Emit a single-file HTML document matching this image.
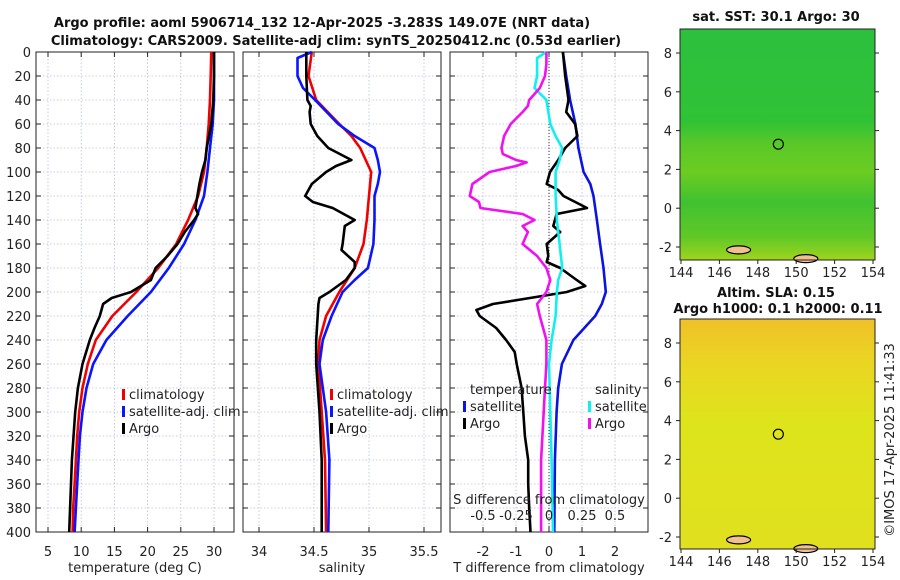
<!DOCTYPE html>
<html><head><meta charset="utf-8"><style>
body{margin:0;background:#fff}
svg{display:block;font-family:"DejaVu Sans","Liberation Sans",sans-serif}
.t{font-size:13px;fill:#222}
.b{font-weight:bold;font-size:13px;fill:#111}
</style></head><body>
<svg id="chart" width="900" height="580" viewBox="0 0 900 580" xmlns="http://www.w3.org/2000/svg">
<defs>
<linearGradient id="sstg" x1="0" y1="0" x2="0" y2="1">
<stop offset="0" stop-color="#2cc03e"/><stop offset="0.4" stop-color="#30c236"/>
<stop offset="0.5" stop-color="#5ac828"/><stop offset="0.62" stop-color="#6ccc22"/>
<stop offset="0.75" stop-color="#40c230"/><stop offset="0.9" stop-color="#60c828"/><stop offset="1" stop-color="#a0d41c"/>
</linearGradient>
<linearGradient id="slag" x1="0" y1="0" x2="0" y2="1">
<stop offset="0" stop-color="#f0c028"/><stop offset="0.2" stop-color="#ead622"/>
<stop offset="0.45" stop-color="#dee41c"/><stop offset="1" stop-color="#e0e01e"/>
</linearGradient>
</defs>
<text class="b" x="322" y="27" text-anchor="middle">Argo profile: aoml 5906714_132 12-Apr-2025 -3.283S 149.07E (NRT data)</text>
<text class="b" x="336" y="45" text-anchor="middle">Climatology: CARS2009. Satellite-adj clim: synTS_20250412.nc (0.53d earlier)</text>
<g id="panels"></g>
<g id="maps"></g>
<text class="t" transform="translate(894,440) rotate(-90)" text-anchor="middle">©IMOS 17-Apr-2025 11:41:33</text>
</svg>
<script>
// ---- data ----
const depthTicks=[0,20,40,60,80,100,120,140,160,180,200,220,240,260,280,300,320,340,360,380,400];
const tempTicks=[5,10,15,20,25,30];
const salTicks=[34,34.5,35,35.5];
const dTTicks=[-2,-1,0,1,2];
const dSTicks=[-0.5,-0.25,0,0.25,0.5];
const dSTickLabels=["-0.5","-0.25","0","0.25","0.5"];

const climTdep=[0,20,40,60,80,100,120,140,160,180,200,220,240,260,280,300,320,340,360,380,400];
const climT=[29.6,29.5,29.4,29.2,28.9,28.5,27.6,26.1,24.3,21.6,18.3,14.7,12.2,11.0,10.2,9.7,9.4,9.2,9.0,8.8,8.7];
const satTdep=[0,40,60,80,100,120,140,160,180,200,220,240,260,280,300,320,340,360,380,400];
const satT=[30.0,30.0,29.8,29.4,29.0,28.5,27.2,25.5,23.2,20.5,17.0,13.8,11.8,10.8,10.2,9.8,9.6,9.4,9.2,9.0];
const argoTdep=[0,20,40,60,80,90,100,110,120,130,135,140,150,160,170,180,190,200,205,210,220,230,240,260,280,300,340,400];
const argoT=[30.0,30.0,29.9,29.6,28.9,28.7,28.2,27.8,27.5,27.2,27.6,27.0,25.6,24.5,23.0,21.2,20.5,17.5,14.6,13.3,12.8,12.0,11.3,10.2,9.5,9.1,8.6,8.2];

const climSdep=[0,20,40,60,70,80,100,120,140,160,180,200,220,240,260,300,340,400];
const climS=[34.48,34.45,34.52,34.73,34.84,34.92,35.02,35.0,34.98,34.95,34.87,34.73,34.61,34.55,34.54,34.57,34.6,34.61];
const satSdep=[0,5,20,30,40,60,70,80,90,100,110,120,140,160,180,190,200,220,240,260,280,300,340,400];
const satS=[34.48,34.35,34.35,34.40,34.51,34.72,34.87,35.05,35.08,35.10,35.08,35.05,35.05,35.04,34.99,34.87,34.76,34.66,34.58,34.55,34.58,34.61,34.64,34.63];
const argoSdep=[0,20,40,45,50,60,70,80,90,95,100,110,120,125,130,140,145,160,165,175,180,190,200,205,210,240,260,300,340,400];
const argoS=[34.43,34.43,34.44,34.47,34.46,34.47,34.53,34.63,34.84,34.7,34.61,34.48,34.42,34.49,34.67,34.87,34.78,34.76,34.75,34.87,34.87,34.79,34.64,34.55,34.54,34.52,34.52,34.55,34.57,34.57];

const satdTdep=[0,20,40,60,80,100,110,120,140,160,180,200,210,220,240,260,280,300,340,400];
const satdT=[0.42,0.52,0.64,0.8,0.89,1.05,1.25,1.35,1.45,1.55,1.65,1.72,1.6,1.4,0.74,0.39,0.28,0.23,0.18,0.16];
const argodTdep=[0,20,40,50,60,70,80,90,100,110,115,120,130,135,145,150,160,170,175,180,190,195,200,205,210,215,220,230,240,250,260,280,300,320,340,360,380,400];
const argodT=[0.42,0.49,0.59,0.52,0.79,0.86,0.49,0.28,0.03,-0.07,0.28,0.44,1.15,0.23,0.13,0.34,-0.07,-0.02,-0.07,0.34,0.84,1.1,0.54,-0.58,-1.7,-2.2,-2.1,-1.6,-1.3,-1.04,-0.98,-0.83,-0.78,-0.73,-0.63,-0.63,-0.6,-0.56];
const satdSdep=[0,5,20,30,40,60,70,80,90,100,120,140,160,180,190,200,220,240,260,300,340,400];
const satdS=[-0.02,-0.09,-0.09,-0.11,-0.02,0.01,0.05,0.1,0.08,0.05,0.05,0.06,0.08,0.1,0.07,0.06,0.05,0.02,0,0.01,0.02,0.03];
const argodSdep=[0,10,20,30,40,45,50,60,70,80,85,90,92,95,100,110,120,125,130,135,140,145,150,160,170,180,190,200,210,220,240,260,280,300,340,380,400];
const argodS=[-0.02,-0.02,-0.03,-0.07,-0.15,-0.16,-0.2,-0.29,-0.34,-0.36,-0.35,-0.25,-0.17,-0.25,-0.45,-0.58,-0.6,-0.53,-0.52,-0.2,-0.11,-0.2,-0.16,-0.2,-0.09,-0.02,0.01,-0.02,-0.09,-0.07,-0.02,-0.02,-0.03,-0.04,-0.06,-0.06,-0.06];

const lonTicks=[144,146,148,150,152,154];
const latTicks=[-2,0,2,4,6,8];
const argoLon=149.07, argoLat=3.3;

// ---- helpers ----
const NS="http://www.w3.org/2000/svg";
const root=document.getElementById('panels');
function mk(tag,attrs,parent){const e=document.createElementNS(NS,tag);for(const k in attrs)e.setAttribute(k,attrs[k]);(parent||root).appendChild(e);return e;}
const yTop=52,yBot=532;
const yS=d=>yTop+(yBot-yTop)*d/400;
function lin(d0,d1,r0,r1){return v=>r0+(v-d0)*(r1-r0)/(d1-d0);}

function panel(name,x0,x1,xs,ticks,labels,xlabel,leftLabels){
  const g=mk('g',{});
  
  
  ticks.forEach(t=>{const x=xs(t);const l=mk('line',{x1:x,x2:x,y1:yTop,y2:yBot,stroke:'#b8c0e0','stroke-width':0.8,'stroke-dasharray':'1.5,2'},g);
    
    mk('line',{x1:x,x2:x,y1:yBot,y2:yBot-5,stroke:'#222'},g);mk('line',{x1:x,x2:x,y1:yTop,y2:yTop+5,stroke:'#222'},g);});
  depthTicks.forEach(d=>{const y=yS(d);const l=mk('line',{x1:x0,x2:x1,y1:y,y2:y,stroke:'#b8c0e0','stroke-width':0.8,'stroke-dasharray':'1.5,2'},g);
    
    mk('line',{x1:x0,x2:x0+5,y1:y,y2:y,stroke:'#222'},g);mk('line',{x1:x1,x2:x1-5,y1:y,y2:y,stroke:'#222'},g);
    if(leftLabels){const t=mk('text',{x:x0-5,y:y+5,'text-anchor':'end',class:'t'},g);t.textContent=d;
      }});
  ticks.forEach((t,i)=>{const tx=mk('text',{x:xs(t),y:556,'text-anchor':'middle',class:'t'},g);tx.textContent=labels[i];
    });
  const xt=mk('text',{x:(x0+x1)/2,y:572,'text-anchor':'middle',class:'t'},g);xt.textContent=xlabel;
  
  const fr=mk('rect',{x:x0,y:yTop,width:x1-x0,height:yBot-yTop,fill:'none',stroke:'#222','stroke-width':1},g);
  
  return g;
}
function series(g,name,deps,vals,xs,color){
  const p=mk('polyline',{points:deps.map((d,i)=>xs(vals[i]).toFixed(1)+','+yS(d).toFixed(1)).join(' '),fill:'none',stroke:color,'stroke-width':2.6,'stroke-linejoin':'round'},g);
  
}
function legend(g,name,x,y,color,label){
  const l=mk('g',{},g);
  
  mk('rect',{x:x,y:y-10,width:3,height:11,fill:color},l);
  const t=mk('text',{x:x+7,y:y,class:'t'},l);t.textContent=label;
}

// panel 1 temperature
const xT=lin(5,30,48,214);
const g1=panel('temperature-panel',36,234,xT,tempTicks,tempTicks.map(String),'temperature (deg C)',true);
series(g1,'climatology-temperature-line',climTdep,climT,xT,'#f00000');
series(g1,'satellite-temperature-line',satTdep,satT,xT,'#0a14ff');
series(g1,'argo-temperature-line',argoTdep,argoT,xT,'#000');
legend(g1,'legend-climatology',122,399,'#f00000','climatology');
legend(g1,'legend-satellite-adj',122,416,'#0a14ff','satellite-adj. clim');
legend(g1,'legend-argo',122,433,'#000','Argo');

// panel 2 salinity
const xSa=lin(34,35,259,369);
const g2=panel('salinity-panel',243,441,xSa,salTicks,["34","34.5","35","35.5"],'salinity',false);
series(g2,'climatology-salinity-line',climSdep,climS,xSa,'#f00000');
series(g2,'satellite-salinity-line',satSdep,satS,xSa,'#0a14ff');
series(g2,'argo-salinity-line',argoSdep,argoS,xSa,'#000');
legend(g2,'legend-climatology-s',330,399,'#f00000','climatology');
legend(g2,'legend-satellite-adj-s',330,416,'#0a14ff','satellite-adj. clim');
legend(g2,'legend-argo-s',330,433,'#000','Argo');

// panel 3 differences
const xdT=lin(-2,2,483,615);
const xdS=lin(-0.5,0.5,483,615);
const g3=panel('difference-panel',450,648,xdT,dTTicks,["-2","-1","0","1","2"],'T difference from climatology',false);
const z=mk('line',{x1:xdT(0),x2:xdT(0),y1:yTop,y2:yBot,stroke:'#333','stroke-width':1,'stroke-dasharray':'1,2'},g3);

series(g3,'satellite-temp-diff-line',satdTdep,satdT,xdT,'#0a14e0');
series(g3,'argo-temp-diff-line',argodTdep,argodT,xdT,'#000');
series(g3,'satellite-sal-diff-line',satdSdep,satdS,xdS,'#10f0f0');
series(g3,'argo-sal-diff-line',argodSdep,argodS,xdS,'#f010f0');
const h1=mk('text',{x:470,y:394,class:'t'},g3);h1.textContent='temperature';

const h2=mk('text',{x:595,y:394,class:'t'},g3);h2.textContent='salinity';

legend(g3,'legend-t-satellite',463,411,'#0a14e0','satellite');
legend(g3,'legend-t-argo',463,428,'#000','Argo');
legend(g3,'legend-s-satellite',588,411,'#10f0f0','satellite');
legend(g3,'legend-s-argo',588,428,'#f010f0','Argo');
const st=mk('text',{x:549,y:504,'text-anchor':'middle',class:'t'},g3);st.textContent='S difference from climatology';

dSTicks.forEach((v,i)=>{const t=mk('text',{x:xdS(v),y:520,'text-anchor':'middle',class:'t'},g3);t.textContent=dSTickLabels[i];
  });

// ---- maps ----
const mroot=document.getElementById('maps');
const xLon=lin(144,154,681,873);
function map(name,title1,title2,top,bot,lat8y,latm2y,fill){
  const g=mk('g',{},mroot);
  
  const yLat=lin(8,-2,lat8y,latm2y);
  const r=mk('rect',{x:680,y:top,width:195,height:bot-top,fill:fill},g);
  
  [[147.0,-2.15],[150.5,-2.6]].forEach(([lo,la])=>{const e=mk('ellipse',{cx:xLon(lo),cy:yLat(la),rx:12,ry:4,fill:'#f0c090',stroke:'#000','stroke-width':1.2},g);
    });
  const c=mk('circle',{cx:xLon(argoLon),cy:yLat(argoLat),r:5,fill:'none',stroke:'#000','stroke-width':1.2},g);
  
  const fr=mk('rect',{x:680,y:top,width:195,height:bot-top,fill:'none',stroke:'#222'},g);
  
  lonTicks.forEach(v=>{const x=xLon(v);mk('line',{x1:x,x2:x,y1:bot,y2:bot+4,stroke:'#222'},g);
    const t=mk('text',{x:x,y:bot+17,'text-anchor':'middle',class:'t'},g);t.textContent=v;
    });
  latTicks.forEach(v=>{const y=yLat(v);mk('line',{x1:676,x2:680,y1:y,y2:y,stroke:'#222'},g);mk('line',{x1:875,x2:879,y1:y,y2:y,stroke:'#222'},g);
    const t=mk('text',{x:672,y:y+5,'text-anchor':'end',class:'t'},g);t.textContent=v;
    });
  const a=mk('text',{x:776,y:title2?top-22:top-8,'text-anchor':'middle',class:'b'},g);a.textContent=title1;
  
  if(title2){const b=mk('text',{x:778,y:top-6,'text-anchor':'middle',class:'b'},g);b.textContent=title2;
    }
}
map('sst-map','sat. SST: 30.1 Argo: 30',null,29,260,53,247,'url(#sstg)');
map('sla-map','Altim. SLA: 0.15','Argo h1000: 0.1 h2000: 0.11',319,549,343,537,'url(#slag)');
</script>
</body></html>
